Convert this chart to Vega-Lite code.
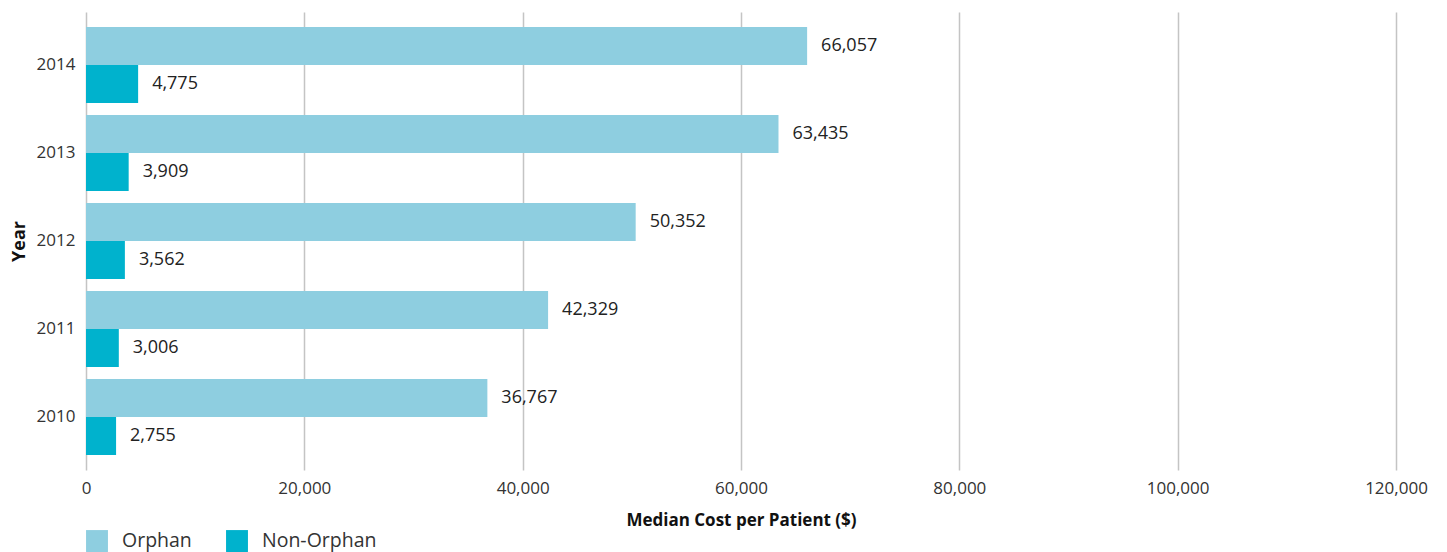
{
  "$schema": "https://vega.github.io/schema/vega-lite/v6.json",
  "width": 1310,
  "height": 458,
  "autosize": {"type": "none"},
  "padding": {"left": 86, "top": 12, "right": 51, "bottom": 82},
  "background": "white",
  "config": {
    "font": "Open Sans",
    "view": {"stroke": null},
    "axis": {"labelFont": "Open Sans", "titleFont": "Open Sans"},
    "legend": {"labelFont": "Open Sans"}
  },
  "data": {
    "values": [
      {"Year": "2014", "Type": "Orphan", "Cost": 66057},
      {"Year": "2014", "Type": "Non-Orphan", "Cost": 4775},
      {"Year": "2013", "Type": "Orphan", "Cost": 63435},
      {"Year": "2013", "Type": "Non-Orphan", "Cost": 3909},
      {"Year": "2012", "Type": "Orphan", "Cost": 50352},
      {"Year": "2012", "Type": "Non-Orphan", "Cost": 3562},
      {"Year": "2011", "Type": "Orphan", "Cost": 42329},
      {"Year": "2011", "Type": "Non-Orphan", "Cost": 3006},
      {"Year": "2010", "Type": "Orphan", "Cost": 36767},
      {"Year": "2010", "Type": "Non-Orphan", "Cost": 2755}
    ]
  },
  "encoding": {
    "y": {
      "field": "Year",
      "type": "nominal",
      "sort": ["2014", "2013", "2012", "2011", "2010"],
      "scale": {"paddingInner": 0.137, "paddingOuter": 0.17},
      "axis": {
        "title": "Year",
        "titleFontWeight": "bold",
        "titleFontSize": 18,
        "titleColor": "#111",
        "titlePadding": 8,
        "labelFontSize": 17,
        "labelColor": "#333",
        "labelPadding": 11,
        "ticks": false,
        "domain": false
      }
    },
    "yOffset": {
      "field": "Type",
      "type": "nominal",
      "sort": ["Orphan", "Non-Orphan"]
    },
    "x": {
      "field": "Cost",
      "type": "quantitative",
      "scale": {"domain": [0, 120000]},
      "axis": {
        "title": "Median Cost per Patient ($)",
        "titleFontWeight": "bold",
        "titleFontSize": 17,
        "titleColor": "#111",
        "titlePadding": 16,
        "labelFontSize": 17,
        "labelColor": "#333",
        "labelPadding": 10,
        "labelFlush": false,
        "tickCount": 6,
        "format": ",d",
        "ticks": false,
        "domain": false,
        "grid": true,
        "gridColor": "#c4c4c4",
        "gridWidth": 1.5
      }
    }
  },
  "layer": [
    {
      "mark": {"type": "bar"},
      "encoding": {
        "color": {
          "field": "Type",
          "type": "nominal",
          "sort": ["Orphan", "Non-Orphan"],
          "scale": {"domain": ["Orphan", "Non-Orphan"], "range": ["#8ecee0", "#00b2cd"]},
          "legend": {
            "title": null,
            "orient": "none",
            "legendX": 0,
            "legendY": 518,
            "direction": "horizontal",
            "symbolType": "square",
            "symbolSize": 480,
            "symbolStrokeWidth": 0,
            "labelFontSize": 19.5,
            "labelColor": "#333",
            "labelOffset": 14,
            "columnPadding": 34
          }
        }
      }
    },
    {
      "mark": {"type": "text", "align": "left", "baseline": "middle", "dx": 14, "fontSize": 18, "color": "#222"},
      "encoding": {
        "text": {"field": "Cost", "type": "quantitative", "format": ",d"}
      }
    }
  ]
}
